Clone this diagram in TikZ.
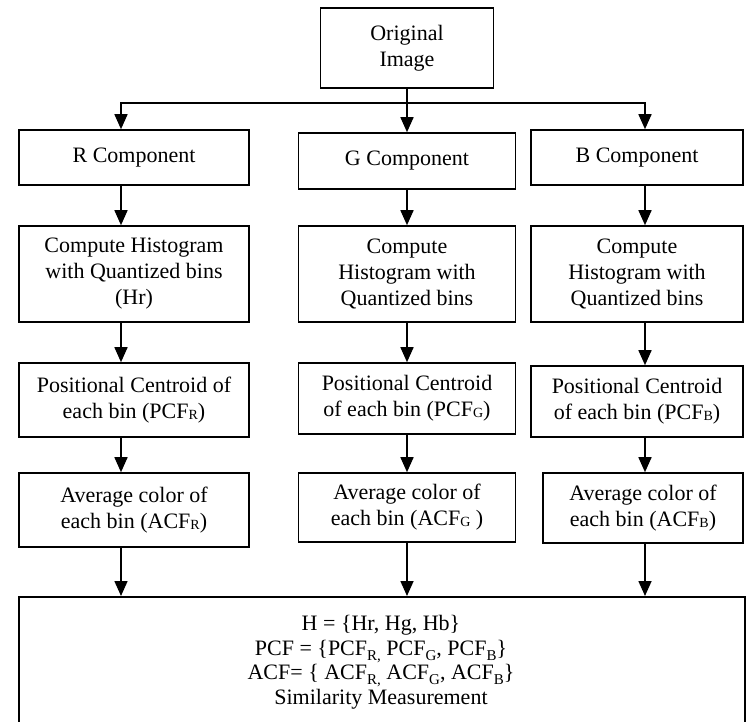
\documentclass[tikz,border=0pt]{standalone}
\usepackage{fontspec}
\setmainfont{Liberation Serif}
\usetikzlibrary{arrows.meta}
\newcommand\sbx[1]{\raisebox{-1pt}{\fontsize{14}{14}\selectfont #1}}
\newcommand\sbl[1]{\raisebox{-5pt}{\fontsize{15}{15}\selectfont #1}}
\begin{document}
\begin{tikzpicture}[x=1pt,y=-1pt,
  box/.style={draw,line width=1.6pt,align=center,inner sep=0pt,font=\fontsize{22}{26}\selectfont},
  arr/.style={line width=1.6pt,-{Triangle[length=15pt,width=13pt]}},
  ln/.style={line width=1.6pt}]
\useasboundingbox (0,0) rectangle (753,721);
\coordinate (xr) at (121,0);
\coordinate (xg) at (407,0);
\coordinate (xb) at (645,0);
\coordinate (bus) at (407,103);
% nodes
\node[box,minimum width=173pt,minimum height=80pt] (orig) at (407,48) {Original\\Image};
\node[box,minimum width=230pt,minimum height=55pt] (rc) at (134,157.5) {R Component};
\node[box,minimum width=217pt,minimum height=56pt] (gc) at (407,161) {G Component};
\node[box,minimum width=212pt,minimum height=55pt] (bc) at (637,157.5) {B Component};
\node[box,minimum width=230pt,minimum height=96pt] (rh) at (134,274) {Compute Histogram\\with Quantized bins\\(Hr)};
\node[box,minimum width=217pt,minimum height=96pt] (gh) at (407,274) {Compute\\Histogram with\\Quantized bins};
\node[box,minimum width=212pt,minimum height=96pt] (bh) at (637,274) {Compute\\Histogram with\\Quantized bins};
\node[box,minimum width=230pt,minimum height=74pt] (rp) at (134,400) {Positional Centroid of\\each bin (PCF\sbx{R})};
\node[box,minimum width=217pt,minimum height=71pt] (gp) at (407,398.5) {Positional Centroid\\of each bin (PCF\sbx{G})};
\node[box,minimum width=212pt,minimum height=71pt] (bp) at (637,401.5) {Positional Centroid\\of each bin (PCF\sbx{B})};
\node[box,minimum width=230pt,minimum height=74pt] (ra) at (134,510) {Average color of\\each bin (ACF\sbx{R})};
\node[box,minimum width=217pt,minimum height=69pt] (ga) at (407,507.5) {Average color of\\each bin (ACF\sbx{G} )};
\node[box,minimum width=200pt,minimum height=70pt] (ba) at (643,508) {Average color of\\each bin (ACF\sbx{B})};
\node[box,anchor=north west,minimum width=726pt,minimum height=160pt] (big) at (18,596) {};
\node[align=center,inner sep=0pt,font=\fontsize{22}{24.5}\selectfont] (bigtxt) at (381,662)
  {H = \{Hr, Hg, Hb\}\\
   PCF = \{PCF\sbl{R,} PCF\sbl{G}, PCF\sbl{B}\}\\
   ACF= \{ ACF\sbl{R,} ACF\sbl{G}, ACF\sbl{B}\}\\
   Similarity Measurement};
% connectors
\draw[ln] (orig.south) -- (bus);
\draw[arr] (bus) -- (gc.north -| xg);
\draw[arr] (bus) -| (rc.north -| xr);
\draw[arr] (bus) -| (bc.north -| xb);
\draw[arr] (rc.south -| xr) -- (rh.north -| xr);
\draw[arr] (gc.south -| xg) -- (gh.north -| xg);
\draw[arr] (bc.south -| xb) -- (bh.north -| xb);
\draw[arr] (rh.south -| xr) -- (rp.north -| xr);
\draw[arr] (gh.south -| xg) -- (gp.north -| xg);
\draw[arr] (bh.south -| xb) -- (bp.north -| xb);
\draw[arr] (rp.south -| xr) -- (ra.north -| xr);
\draw[arr] (gp.south -| xg) -- (ga.north -| xg);
\draw[arr] (bp.south -| xb) -- (ba.north -| xb);
\draw[arr] (ra.south -| xr) -- (big.north -| xr);
\draw[arr] (ga.south -| xg) -- (big.north -| xg);
\draw[arr] (ba.south -| xb) -- (big.north -| xb);
\end{tikzpicture}
\end{document}
